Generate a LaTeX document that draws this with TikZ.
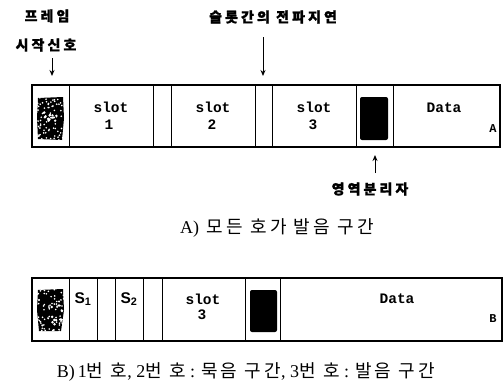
\documentclass[tikz,border=0pt]{standalone}
\usepackage{fontspec}
\setmainfont{Liberation Serif}
\newfontfamily\kr{Noto Sans CJK KR}[LetterSpace=18]
\newfontfamily\krb{Noto Sans CJK KR}[LetterSpace=22,BoldFeatures={FakeBold=1.2}]
\newfontfamily\mono{Liberation Mono}
\newfontfamily\sans{Liberation Sans}
\usetikzlibrary{arrows.meta}
\begin{document}
\begin{tikzpicture}[x=1pt,y=-1pt,
  frame/.style={line width=1.3pt},
  divider/.style={line width=1pt},
  lbl/.style={inner sep=0pt,font=\krb\bfseries\fontsize{14}{14}\selectfont},
  captext/.style={inner sep=0pt,font=\fontsize{18}{18}\selectfont},
  cell/.style={inner sep=0pt,font=\mono\bfseries\fontsize{14.5}{15}\selectfont,align=center},
  ss/.style={inner sep=0pt,font=\sans\bfseries\fontsize{15.5}{15}\selectfont},
  arr/.style={line width=1pt,-{Stealth[length=6pt,width=5pt]}},
  blk/.style={fill=black,rounded corners=2pt}]
\useasboundingbox (0,0) rectangle (503,389);
\pgfmathsetseed{7}
% ---------------- Frame A ----------------
\draw[frame] (32,85) rectangle (500,147);
\foreach \x in {69,153,171,255,272,356,393}
  \draw[divider] (\x,85) -- (\x,147);
% noise block A
\fill[black] (38,98) -- (63,97) -- (64,118) -- (62,140) -- (38,139) -- (37,118) -- cycle;
\foreach \i in {1,...,70}{
  \pgfmathsetmacro\rx{37+27*rnd}\pgfmathsetmacro\ry{97+43*rnd}
  \fill[white] (\rx,\ry) circle (0.9pt);}
\foreach \i in {1,...,14}{
  \pgfmathsetmacro\rx{44+14*rnd}\pgfmathsetmacro\ry{112+10*rnd}
  \fill[white] (\rx,\ry) circle (1.3pt);}
% separator A
\fill[blk] (360,97) rectangle (388,140);
% cell texts A
\node[cell] (s1a) at (111,107) {slot};
\node[cell] (n1a) at (109,125) {1};
\node[cell] (s2a) at (213,107) {slot};
\node[cell] (n2a) at (212,125) {2};
\node[cell] (s3a) at (314,107) {slot};
\node[cell] (n3a) at (313,125) {3};
\node[cell] (da) at (444,108) {Data};
\node[cell,font=\mono\bfseries\fontsize{12}{12}\selectfont] (la) at (493,129) {A};
% labels A
\node[lbl] (fr1) at (47,16) {프레임};
\node[lbl] (fr2) at (46,45) {시작신호};
\node[lbl] (pd) at (273,17) {슬롯간의 전파지연};
\node[lbl] (sep) at (370,189) {영역분리자};
\coordinate (t1s) at (52,58); \coordinate (t1e) at (52,76);
\coordinate (t2s) at (263,37); \coordinate (t2e) at (263,76);
\coordinate (t3s) at (375,173); \coordinate (t3e) at (375,155);
\draw[arr] (t1s) -- (t1e);
\draw[arr] (t2s) -- (t2e);
\draw[arr] (t3s) -- (t3e);
\node[captext] (capa) at (277,228) {A)\, {\kr 모든 호가 발음 구간}};
% ---------------- Frame B ----------------
\draw[frame] (32,278) rectangle (502,341);
\foreach \x in {69,97,115,143,162,245,280}
  \draw[divider] (\x,278) -- (\x,341);
\fill[black] (38,290) -- (63,289) -- (64,310) -- (61,331) -- (39,331) -- (37,310) -- cycle;
\foreach \i in {1,...,70}{
  \pgfmathsetmacro\rx{37+27*rnd}\pgfmathsetmacro\ry{289+43*rnd}
  \fill[white] (\rx,\ry) circle (0.9pt);}
\foreach \i in {1,...,10}{
  \pgfmathsetmacro\rx{50+13*rnd}\pgfmathsetmacro\ry{300+25*rnd}
  \fill[white] (\rx,\ry) circle (1.4pt);}
\fill[blk] (250,290) rectangle (277,332);
\node[ss] (s1b) at (83,299) {S\textsubscript{1}};
\node[ss] (s2b) at (129,299) {S\textsubscript{2}};
\node[cell] (s3b) at (203,299) {slot};
\node[cell] (n3b) at (202,315) {3};
\node[cell] (db) at (397,299) {Data};
\node[cell,font=\mono\bfseries\fontsize{12}{12}\selectfont] (lb) at (493,319) {B};
\node[captext] (capb) at (246,372) {B)\,1{\kr 번 호}, 2{\kr 번 호} : {\kr 묵음 구간}, 3{\kr 번 호} : {\kr 발음 구간}};
\end{tikzpicture}
\end{document}
